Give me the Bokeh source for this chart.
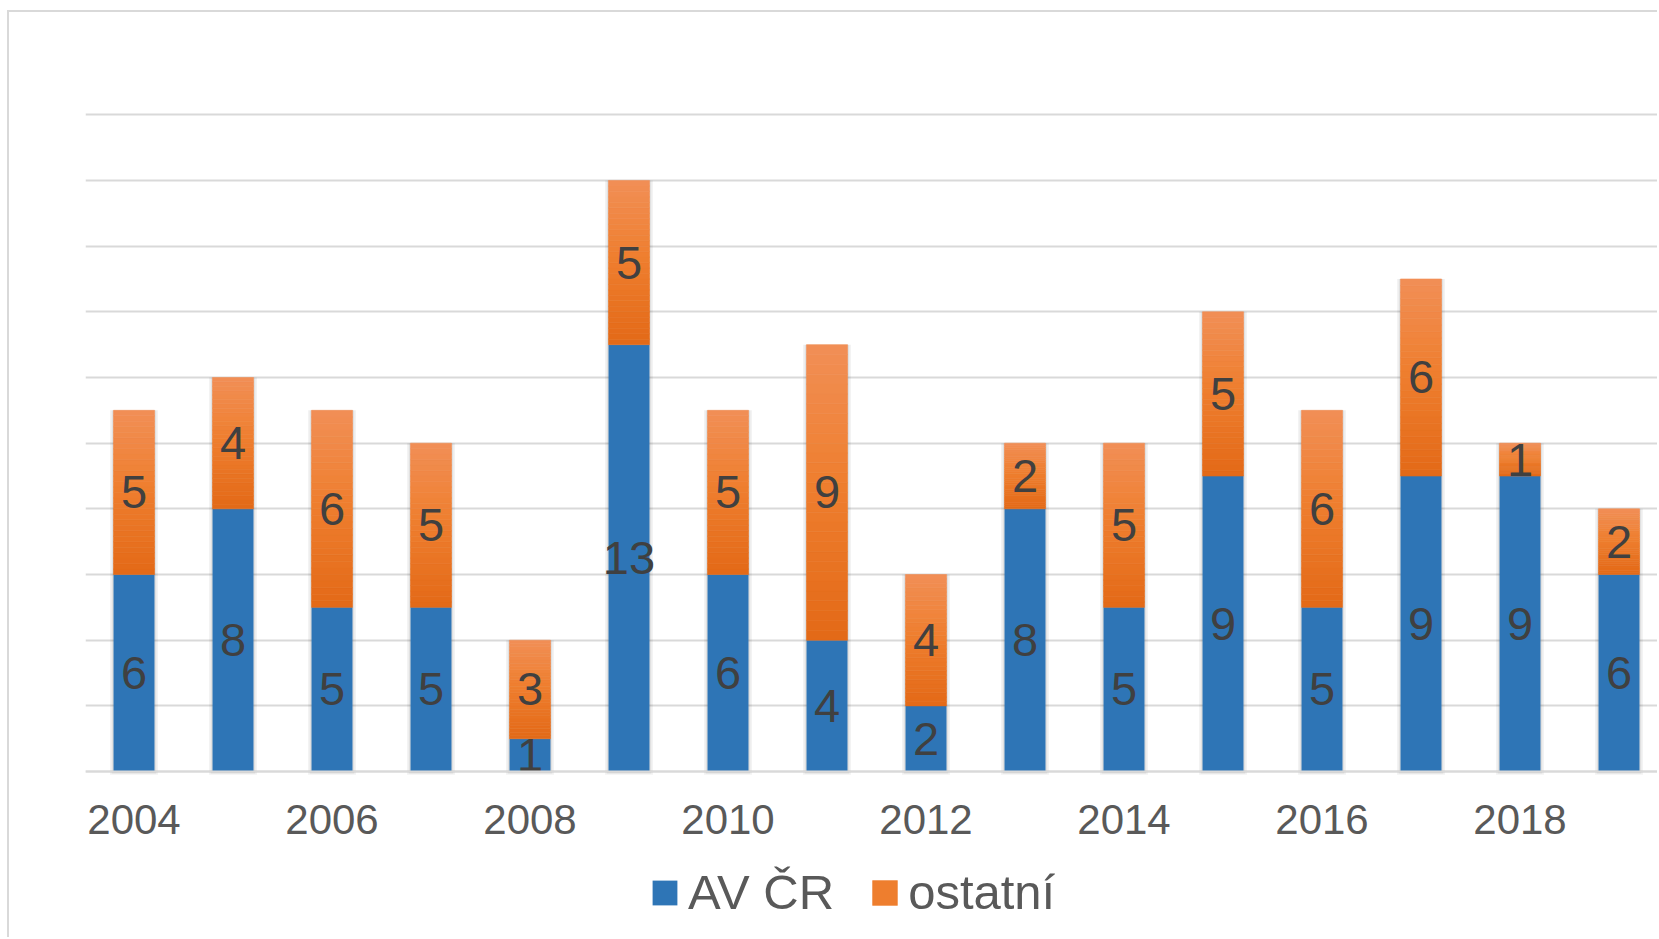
from bokeh.plotting import figure
from bokeh.models import Range1d, FixedTicker, Legend, LegendItem, ColumnDataSource
from bokeh.embed import file_html
from bokeh.resources import INLINE
from bokeh.core.properties import value

# ---- data ----
years = [2004, 2005, 2006, 2007, 2008, 2009, 2010, 2011,
         2012, 2013, 2014, 2015, 2016, 2017, 2018, 2019]
av_cr = [6, 8, 5, 5, 1, 13, 6, 4, 2, 8, 5, 9, 5, 9, 9, 6]
ostatni = [5, 4, 6, 5, 3, 5, 5, 9, 4, 2, 5, 5, 6, 6, 1, 2]
tick_years = [2004, 2006, 2008, 2010, 2012, 2014, 2016, 2018]
grid_values = [0, 2, 4, 6, 8, 10, 12, 14, 16, 18, 20]
series_names = ["AV ČR", "ostatní"]

# ---- style ----
BLUE = "#2E75B6"
ORANGE_TOP = (241, 143, 86)
ORANGE_MID = (239, 127, 48)
ORANGE_BOT = (227, 105, 23)
GRID = "#d9d9d9"
FONT = "Liberation Sans"

W, H = 1650, 927
TOP, LEFT = 99, 76
PX_PER_UNIT = 32.85          # vertical scale of the plot area
BELOW_PX = 168               # room under the zero line for tick labels and legend
BAR_W = 0.414

p = figure(width=W, height=H, output_backend="svg", toolbar_location=None,
           x_range=Range1d(2003.51, 2003.51 + (W - LEFT) / 99.0),
           y_range=Range1d(-BELOW_PX / PX_PER_UNIT, 20.1),
           min_border_left=LEFT, min_border_right=0,
           min_border_top=TOP, min_border_bottom=0)
p.styles = {"border-left": "2px solid #d9d9d9", "border-top": "2px solid #d9d9d9",
            "margin-top": "10px", "margin-left": "7px"}
p.outline_line_color = None
p.background_fill_color = "white"
p.border_fill_color = "white"

p.xaxis.fixed_location = 0
p.xaxis.ticker = FixedTicker(ticks=tick_years)
p.xaxis.major_label_text_font = FONT
p.xaxis.major_label_text_font_size = "42px"
p.xaxis.major_label_text_color = "#595959"
p.xaxis.axis_line_color = GRID
p.xaxis.axis_line_width = 2
p.xaxis.major_tick_line_color = None
p.xaxis.minor_tick_line_color = None
p.xaxis.major_label_standoff = 27
p.xgrid.visible = False

p.yaxis.ticker = FixedTicker(ticks=grid_values)
p.yaxis.visible = False
p.ygrid.ticker = FixedTicker(ticks=grid_values)
p.ygrid.grid_line_color = GRID
p.ygrid.grid_line_width = 2

totals = [a + o for a, o in zip(av_cr, ostatni)]

# soft shadow behind bars
p.vbar(x=years, top=totals, bottom=-0.1, width=BAR_W + 0.07,
       fill_color="black", fill_alpha=0.05, line_color=None)
p.vbar(x=years, top=totals, bottom=-0.06, width=BAR_W + 0.035,
       fill_color="black", fill_alpha=0.07, line_color=None)

blue_r = p.vbar(x=years, top=av_cr, bottom=0, width=BAR_W,
                fill_color=BLUE, line_color=None)


def grad(f):
    if f < 0.55:
        t = f / 0.55
        a, b = ORANGE_BOT, ORANGE_MID
    else:
        t = (f - 0.55) / 0.45
        a, b = ORANGE_MID, ORANGE_TOP
    c = tuple(int(round(a[i] + (b[i] - a[i]) * t)) for i in range(3))
    return "#%02x%02x%02x" % c


N = 30
sx, sb, st, sc = [], [], [], []
for y, a, o in zip(years, av_cr, ostatni):
    for k in range(N):
        sx.append(y)
        sb.append(a + o * k / N)
        st.append(a + o * (k + 1) / N)
        sc.append(grad((k + 0.5) / N))
strip_src = ColumnDataSource(dict(x=sx, bottom=sb, top=st, color=sc))
orange_r = p.vbar(x="x", bottom="bottom", top="top", width=BAR_W, source=strip_src,
                  fill_color="color", line_color="color", line_width=0.6)

# data labels
lx, ly, lt = [], [], []
for y, a, o in zip(years, av_cr, ostatni):
    lx += [y, y]
    ly += [a / 2.0, a + o / 2.0]
    lt += [str(a), str(o)]
p.text(x=lx, y=ly, text=lt, text_font=value(FONT), text_font_size=value("47px"),
       text_color="#404040", text_align="center", text_baseline="middle")

legend = Legend(items=[LegendItem(label=series_names[0], renderers=[blue_r]),
                       LegendItem(label=series_names[1], renderers=[orange_r], index=N // 2)],
                location=(564, 19), orientation="horizontal",
                glyph_width=31, glyph_height=31, label_standoff=8, spacing=35,
                padding=0, margin=0, border_line_color=None, background_fill_alpha=0,
                label_text_font=FONT, label_text_font_size="49px",
                label_text_color="#595959")
p.add_layout(legend)

open("out.html", "w").write(file_html(p, INLINE))
